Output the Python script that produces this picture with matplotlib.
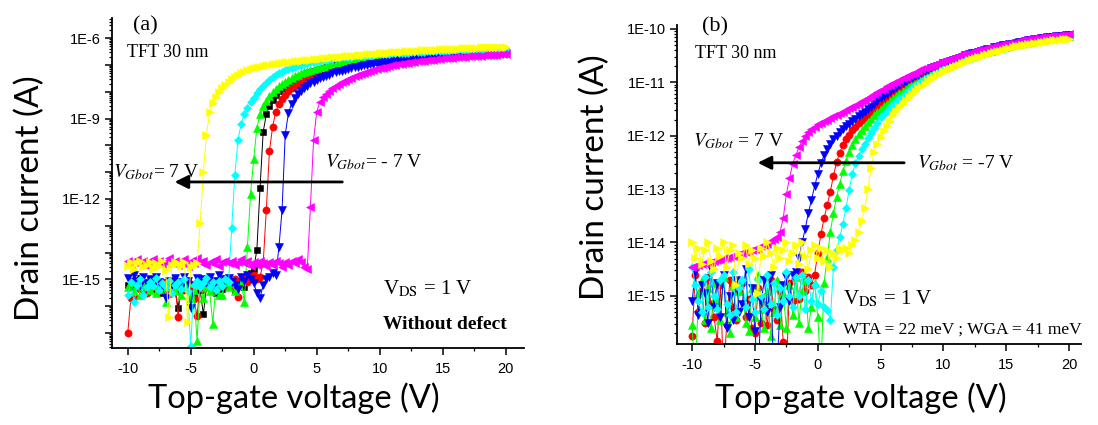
import numpy as np
import matplotlib
matplotlib.use("Agg")
import matplotlib.pyplot as plt
from matplotlib.ticker import FixedLocator, FuncFormatter, NullFormatter, MultipleLocator

plt.rcParams['axes.unicode_minus'] = False
plt.rcParams['mathtext.fontset'] = 'stix'

# Top-gate voltage sweep (V), 0.25 V step
vg = np.linspace(-10, 20, 121)

# ---------------- (a) without defect: log10(Id / A) ----------------
a_black = [
    -15.2, -15.05, -15.3, -15.1, -14.95, -15.25, -15.4, -15.15,
    -15.0, -15.35, -15.2, -15.5, -15.1, -15.3, -15.05, -15.45,
    -16.05, -15.2, -15.35, -15.1, -15.25, -15.6, -15.15, -15.4,
    -16.3, -15.3, -15.05, -15.2, -15.5, -15.15, -15.35, -15.0,
    -15.25, -15.1, -15.4, -15.2, -15.05, -15.3, -14.9, -14.75,
    -14.6, -13.9, -11.6, -9.5, -8.85, -8.52, -8.3, -8.13,
    -7.98, -7.86, -7.76, -7.68, -7.6, -7.53, -7.47, -7.41,
    -7.36, -7.31, -7.27, -7.23, -7.19, -7.16, -7.12, -7.09,
    -7.06, -7.03, -7.01, -6.98, -6.96, -6.94, -6.92, -6.89,
    -6.87, -6.85, -6.84, -6.82, -6.8, -6.79, -6.77, -6.76,
    -6.75, -6.73, -6.72, -6.71, -6.7, -6.69, -6.68, -6.67,
    -6.66, -6.65, -6.64, -6.63, -6.62, -6.61, -6.61, -6.6,
    -6.59, -6.58, -6.58, -6.57, -6.56, -6.56, -6.55, -6.55,
    -6.54, -6.53, -6.53, -6.52, -6.52, -6.51, -6.51, -6.5,
    -6.5, -6.49, -6.49, -6.49, -6.48, -6.48, -6.47, -6.47,
    -6.47]
a_red = [
    -17.0, -15.7, -15.65, -15.1, -15.35, -15.2, -15.5, -15.05,
    -15.3, -15.15, -15.45, -15.1, -15.3, -15.55, -15.25, -15.1,
    -16.4, -15.2, -15.4, -15.05, -15.3, -15.75, -16.35, -15.2,
    -15.35, -15.1, -15.25, -15.45, -15.1, -15.3, -15.0, -15.2,
    -15.1, -15.25, -15.0, -15.65, -15.15, -14.95, -15.1, -14.9,
    -14.85, -15.0, -14.9, -14.4, -12.4, -10.2, -9.3, -8.75,
    -8.47, -8.27, -8.12, -7.99, -7.88, -7.79, -7.71, -7.63,
    -7.57, -7.51, -7.46, -7.41, -7.36, -7.32, -7.28, -7.24,
    -7.21, -7.18, -7.15, -7.12, -7.09, -7.07, -7.04, -7.02,
    -7.0, -6.98, -6.96, -6.94, -6.92, -6.91, -6.89, -6.88,
    -6.86, -6.85, -6.83, -6.82, -6.81, -6.8, -6.79, -6.77,
    -6.76, -6.75, -6.74, -6.73, -6.72, -6.72, -6.71, -6.7,
    -6.69, -6.68, -6.67, -6.67, -6.66, -6.65, -6.65, -6.64,
    -6.63, -6.63, -6.62, -6.62, -6.61, -6.6, -6.6, -6.59,
    -6.59, -6.58, -6.58, -6.57, -6.57, -6.56, -6.56, -6.56,
    -6.55]
a_green = [
    -15.3, -15.1, -15.45, -15.2, -15.6, -15.25, -15.05, -15.4,
    -15.2, -15.5, -15.15, -15.35, -15.85, -15.3, -15.1, -15.45,
    -15.25, -15.6, -15.3, -15.15, -15.7, -15.4, -17.3, -15.2,
    -15.7, -15.3, -15.45, -16.65, -15.2, -15.6, -15.6, -15.1,
    -15.3, -15.15, -15.45, -15.2, -15.05, -15.85, -13.8, -11.8,
    -10.5, -9.35, -8.85, -8.55, -8.33, -8.16, -8.02, -7.9,
    -7.79, -7.7, -7.62, -7.55, -7.48, -7.42, -7.37, -7.32,
    -7.27, -7.23, -7.19, -7.15, -7.12, -7.09, -7.06, -7.03,
    -7.0, -6.98, -6.95, -6.93, -6.91, -6.89, -6.87, -6.85,
    -6.83, -6.82, -6.8, -6.79, -6.77, -6.76, -6.74, -6.73,
    -6.72, -6.71, -6.7, -6.69, -6.68, -6.67, -6.66, -6.65,
    -6.64, -6.63, -6.62, -6.61, -6.61, -6.6, -6.59, -6.58,
    -6.58, -6.57, -6.56, -6.56, -6.55, -6.54, -6.54, -6.53,
    -6.53, -6.52, -6.52, -6.51, -6.51, -6.5, -6.5, -6.49,
    -6.49, -6.48, -6.48, -6.47, -6.47, -6.47, -6.46, -6.46,
    -6.45]
a_blue = [
    -14.95, -15.1, -14.85, -15.05, -15.2, -14.9, -15.15, -15.0,
    -15.25, -14.9, -15.1, -15.3, -15.7, -15.05, -15.2, -14.95,
    -15.1, -15.3, -14.9, -15.05, -16.05, -15.2, -14.95, -15.1,
    -15.0, -15.15, -14.9, -15.25, -15.05, -14.85, -15.2, -15.0,
    -14.95, -15.1, -15.2, -15.35, -14.9, -15.05, -14.85, -15.0,
    -15.15, -15.5, -15.7, -15.2, -15.0, -14.9, -14.75, -14.85,
    -13.8, -12.4, -9.6, -8.8, -8.45, -8.24, -8.08, -7.96,
    -7.86, -7.77, -7.69, -7.62, -7.56, -7.5, -7.45, -7.4,
    -7.36, -7.32, -7.28, -7.24, -7.21, -7.18, -7.15, -7.12,
    -7.09, -7.07, -7.04, -7.02, -7.0, -6.98, -6.96, -6.94,
    -6.92, -6.9, -6.89, -6.87, -6.86, -6.84, -6.83, -6.81,
    -6.8, -6.79, -6.78, -6.77, -6.76, -6.75, -6.74, -6.73,
    -6.72, -6.71, -6.7, -6.69, -6.69, -6.68, -6.67, -6.66,
    -6.66, -6.65, -6.64, -6.64, -6.63, -6.62, -6.62, -6.61,
    -6.61, -6.6, -6.6, -6.59, -6.59, -6.58, -6.58, -6.57,
    -6.57]
a_cyan = [
    -15.6, -15.1, -15.85, -15.2, -15.0, -15.6, -15.3, -15.1,
    -15.25, -14.95, -15.4, -15.15, -15.3, -15.05, -15.5, -15.2,
    -15.1, -15.35, -15.0, -15.45, -17.5, -15.2, -15.05, -15.3,
    -15.15, -14.95, -15.3, -15.1, -15.4, -15.05, -15.25, -15.0,
    -15.1, -13.1, -11.1, -9.8, -9.2, -8.85, -8.6, -8.4,
    -8.22, -8.05, -7.9, -7.77, -7.66, -7.56, -7.47, -7.39,
    -7.32, -7.26, -7.2, -7.15, -7.1, -7.06, -7.02, -6.99,
    -6.96, -6.93, -6.91, -6.88, -6.86, -6.84, -6.82, -6.8,
    -6.78, -6.77, -6.75, -6.74, -6.72, -6.71, -6.7, -6.69,
    -6.68, -6.67, -6.66, -6.65, -6.64, -6.63, -6.62, -6.61,
    -6.6, -6.59, -6.59, -6.58, -6.57, -6.56, -6.56, -6.55,
    -6.54, -6.54, -6.53, -6.53, -6.52, -6.51, -6.51, -6.5,
    -6.5, -6.49, -6.49, -6.48, -6.48, -6.47, -6.47, -6.46,
    -6.46, -6.45, -6.45, -6.45, -6.44, -6.44, -6.43, -6.43,
    -6.43, -6.42, -6.42, -6.42, -6.41, -6.41, -6.41, -6.4,
    -6.4]
a_magenta = [
    -14.3, -14.45, -14.35, -14.25, -14.4, -14.3, -14.5, -14.35,
    -14.25, -14.4, -14.3, -14.45, -14.35, -14.2, -14.4, -14.3,
    -14.45, -14.35, -14.25, -14.5, -14.3, -14.4, -14.2, -14.35,
    -14.3, -14.45, -14.35, -14.4, -14.25, -14.5, -14.35, -14.3,
    -14.4, -14.3, -14.45, -14.35, -14.25, -14.4, -14.3, -14.5,
    -14.35, -14.45, -14.3, -14.4, -14.5, -14.35, -14.45, -14.3,
    -14.4, -14.55, -14.35, -14.45, -14.3, -14.4, -14.25, -14.35,
    -14.55, -14.6, -12.3, -9.8, -8.75, -8.38, -8.2, -8.07,
    -7.96, -7.87, -7.79, -7.72, -7.65, -7.59, -7.53, -7.48,
    -7.43, -7.38, -7.34, -7.3, -7.26, -7.22, -7.19, -7.16,
    -7.13, -7.1, -7.07, -7.05, -7.02, -7.0, -6.98, -6.96,
    -6.94, -6.92, -6.9, -6.89, -6.87, -6.85, -6.84, -6.82,
    -6.81, -6.8, -6.78, -6.77, -6.76, -6.75, -6.74, -6.73,
    -6.72, -6.71, -6.7, -6.69, -6.68, -6.67, -6.67, -6.66,
    -6.65, -6.64, -6.64, -6.63, -6.62, -6.62, -6.61, -6.61,
    -6.6]
a_yellow = [
    -14.5, -14.35, -14.6, -14.4, -14.3, -14.55, -14.45, -14.35,
    -14.6, -14.4, -14.5, -14.3, -14.65, -16.4, -14.45, -14.35,
    -14.4, -14.5, -14.35, -16.6, -14.55, -14.45, -14.4, -12.9,
    -11.0, -9.6, -8.75, -8.42, -8.2, -8.02, -7.86, -7.74,
    -7.63, -7.53, -7.45, -7.37, -7.31, -7.25, -7.2, -7.16,
    -7.12, -7.09, -7.06, -7.03, -7.01, -6.99, -6.97, -6.95,
    -6.94, -6.92, -6.91, -6.89, -6.88, -6.87, -6.85, -6.84,
    -6.83, -6.82, -6.8, -6.79, -6.78, -6.77, -6.76, -6.74,
    -6.73, -6.72, -6.71, -6.7, -6.69, -6.68, -6.67, -6.66,
    -6.65, -6.64, -6.63, -6.62, -6.61, -6.6, -6.59, -6.58,
    -6.57, -6.56, -6.55, -6.54, -6.53, -6.53, -6.52, -6.51,
    -6.5, -6.49, -6.49, -6.48, -6.47, -6.46, -6.46, -6.45,
    -6.44, -6.44, -6.43, -6.42, -6.42, -6.41, -6.41, -6.4,
    -6.39, -6.39, -6.38, -6.38, -6.37, -6.37, -6.36, -6.36,
    -6.35, -6.35, -6.34, -6.34, -6.34, -6.33, -6.33, -6.32,
    -6.32]

# ---------------- (b) with tail / Gaussian states: log10(Id / A) ----------------
b_red = [
    -15.75, -14.6, -15.3, -14.9, -15.5, -14.65, -15.15, -15.4,
    -15.85, -14.8, -16.5, -15.55, -14.7, -15.2, -15.45, -14.9,
    -14.75, -15.4, -15.05, -15.6, -15.7, -14.85, -15.5, -15.15,
    -15.55, -14.7, -15.25, -15.45, -14.9, -15.86, -16.5, -14.75,
    -15.1, -14.6, -15.05, -14.55, -14.9, -14.65, -14.8, -14.6,
    -14.2, -13.85, -13.55, -13.3, -13.05, -12.75, -12.5, -12.32,
    -12.18, -12.07, -11.98, -11.9, -11.83, -11.77, -11.71, -11.66,
    -11.61, -11.56, -11.5, -11.45, -11.4, -11.36, -11.31, -11.27,
    -11.22, -11.18, -11.14, -11.09, -11.05, -11.02, -10.98, -10.95,
    -10.91, -10.88, -10.85, -10.81, -10.78, -10.75, -10.73, -10.7,
    -10.67, -10.65, -10.63, -10.61, -10.59, -10.56, -10.54, -10.52,
    -10.5, -10.48, -10.47, -10.45, -10.44, -10.42, -10.4, -10.39,
    -10.37, -10.36, -10.34, -10.33, -10.32, -10.3, -10.29, -10.27,
    -10.26, -10.25, -10.24, -10.23, -10.22, -10.21, -10.2, -10.19,
    -10.18, -10.17, -10.17, -10.16, -10.15, -10.14, -10.14, -10.13,
    -10.12]
b_green = [
    -15.55, -16.6, -14.95, -14.7, -15.45, -14.85, -15.6, -14.75,
    -15.1, -15.45, -14.65, -15.3, -15.7, -14.8, -15.4, -14.9,
    -14.7, -15.5, -15.65, -14.85, -15.4, -14.6, -15.25, -15.6,
    -14.9, -15.75, -15.3, -14.7, -15.55, -14.95, -15.6, -14.8,
    -15.35, -14.65, -15.5, -14.9, -14.7, -15.6, -15.2, -14.75,
    -15.4, -16.4, -14.75, -14.3, -13.8, -13.45, -13.15, -12.9,
    -12.67, -12.47, -12.3, -12.17, -12.06, -11.97, -11.89, -11.82,
    -11.75, -11.69, -11.62, -11.56, -11.5, -11.45, -11.4, -11.35,
    -11.3, -11.26, -11.21, -11.17, -11.12, -11.08, -11.04, -11.01,
    -10.97, -10.94, -10.9, -10.87, -10.83, -10.8, -10.77, -10.74,
    -10.71, -10.69, -10.66, -10.64, -10.62, -10.6, -10.57, -10.55,
    -10.53, -10.51, -10.5, -10.48, -10.46, -10.44, -10.42, -10.41,
    -10.39, -10.38, -10.36, -10.35, -10.34, -10.32, -10.31, -10.29,
    -10.28, -10.27, -10.26, -10.25, -10.24, -10.22, -10.21, -10.2,
    -10.19, -10.18, -10.18, -10.17, -10.16, -10.15, -10.15, -10.14,
    -10.13]
b_blue = [
    -15.1, -14.55, -15.35, -14.8, -14.95, -15.5, -14.5, -15.2,
    -14.75, -15.4, -14.6, -15.6, -15.0, -15.45, -14.7, -15.3,
    -15.15, -14.5, -15.4, -14.85, -15.65, -16.5, -15.1, -14.7,
    -15.3, -14.6, -16.5, -16.4, -15.2, -14.8, -14.65, -15.1,
    -14.6, -14.55, -14.3, -14.0, -13.75, -13.45, -13.2, -12.95,
    -12.72, -12.52, -12.37, -12.25, -12.15, -12.07, -12.0, -11.93,
    -11.87, -11.82, -11.78, -11.73, -11.68, -11.64, -11.6, -11.55,
    -11.51, -11.46, -11.4, -11.35, -11.3, -11.26, -11.22, -11.17,
    -11.13, -11.09, -11.06, -11.02, -10.98, -10.95, -10.92, -10.89,
    -10.86, -10.83, -10.8, -10.77, -10.74, -10.72, -10.69, -10.67,
    -10.64, -10.62, -10.6, -10.58, -10.56, -10.54, -10.52, -10.5,
    -10.48, -10.46, -10.45, -10.43, -10.42, -10.4, -10.38, -10.37,
    -10.35, -10.34, -10.33, -10.31, -10.3, -10.29, -10.28, -10.26,
    -10.25, -10.24, -10.23, -10.22, -10.21, -10.2, -10.19, -10.18,
    -10.17, -10.16, -10.16, -10.15, -10.14, -10.13, -10.13, -10.12,
    -10.11]
b_cyan = [
    -14.45, -14.8, -15.1, -15.3, -14.65, -15.2, -14.55, -15.0,
    -15.25, -14.7, -14.6, -15.15, -15.35, -14.55, -15.3, -14.85,
    -14.7, -15.2, -14.5, -15.05, -15.3, -14.7, -15.0, -15.25,
    -14.6, -15.15, -14.75, -15.35, -14.85, -15.1, -14.55, -15.0,
    -15.2, -14.65, -15.0, -14.6, -15.25, -14.7, -15.1, -14.8,
    -15.15, -14.9, -15.2, -15.26, -15.45, -14.45, -14.15, -13.9,
    -13.65, -13.35, -13.02, -12.72, -12.52, -12.38, -12.26, -12.15,
    -12.05, -11.95, -11.85, -11.76, -11.66, -11.6, -11.54, -11.47,
    -11.41, -11.36, -11.3, -11.25, -11.2, -11.16, -11.11, -11.07,
    -11.03, -10.99, -10.95, -10.92, -10.88, -10.85, -10.82, -10.79,
    -10.76, -10.74, -10.71, -10.69, -10.66, -10.64, -10.61, -10.59,
    -10.56, -10.54, -10.52, -10.5, -10.49, -10.47, -10.45, -10.43,
    -10.41, -10.4, -10.38, -10.37, -10.36, -10.34, -10.33, -10.31,
    -10.3, -10.29, -10.28, -10.27, -10.26, -10.24, -10.23, -10.22,
    -10.21, -10.2, -10.2, -10.19, -10.18, -10.17, -10.17, -10.16,
    -10.15]
b_magenta = [
    -14.45, -14.44, -14.42, -14.41, -14.39, -14.38, -14.36, -14.35,
    -14.33, -14.32, -14.3, -14.29, -14.27, -14.25, -14.24, -14.22,
    -14.2, -14.18, -14.16, -14.14, -14.12, -14.1, -14.07, -14.05,
    -14.02, -13.98, -13.94, -13.89, -13.8, -13.55, -13.1, -12.8,
    -12.53, -12.37, -12.22, -12.1, -12.0, -11.93, -11.88, -11.83,
    -11.79, -11.76, -11.73, -11.7, -11.67, -11.64, -11.61, -11.58,
    -11.55, -11.52, -11.49, -11.46, -11.43, -11.4, -11.36, -11.33,
    -11.3, -11.26, -11.22, -11.19, -11.15, -11.12, -11.08, -11.05,
    -11.02, -10.99, -10.96, -10.93, -10.9, -10.87, -10.84, -10.82,
    -10.79, -10.76, -10.74, -10.71, -10.69, -10.67, -10.64, -10.62,
    -10.6, -10.58, -10.56, -10.54, -10.52, -10.5, -10.48, -10.47,
    -10.45, -10.43, -10.42, -10.4, -10.39, -10.37, -10.36, -10.34,
    -10.33, -10.32, -10.3, -10.29, -10.28, -10.27, -10.26, -10.24,
    -10.23, -10.22, -10.21, -10.2, -10.19, -10.18, -10.17, -10.16,
    -10.16, -10.15, -10.14, -10.13, -10.13, -10.12, -10.11, -10.11,
    -10.1]
b_yellow = [
    -14.0, -14.3, -14.1, -14.4, -14.15, -14.0, -14.35, -14.5,
    -14.1, -14.25, -14.0, -14.45, -14.15, -14.05, -14.8, -14.2,
    -14.3, -14.05, -14.4, -14.15, -14.3, -14.95, -14.1, -14.25,
    -14.0, -14.2, -14.45, -14.1, -14.3, -14.15, -14.0, -14.35,
    -14.2, -14.05, -14.4, -14.0, -14.25, -14.5, -14.15, -14.05,
    -14.3, -14.1, -14.35, -14.15, -14.45, -14.2, -14.3, -14.1,
    -14.15, -14.1, -14.2, -14.05, -13.95, -13.8, -13.6, -13.35,
    -13.0, -12.6, -12.3, -12.15, -12.03, -11.92, -11.82, -11.72,
    -11.62, -11.54, -11.47, -11.4, -11.33, -11.28, -11.22, -11.17,
    -11.11, -11.07, -11.03, -10.98, -10.94, -10.91, -10.87, -10.84,
    -10.8, -10.77, -10.75, -10.72, -10.7, -10.67, -10.64, -10.62,
    -10.59, -10.57, -10.55, -10.53, -10.52, -10.5, -10.48, -10.46,
    -10.44, -10.42, -10.41, -10.39, -10.38, -10.36, -10.35, -10.33,
    -10.32, -10.31, -10.3, -10.29, -10.28, -10.27, -10.26, -10.25,
    -10.24, -10.23, -10.23, -10.22, -10.21, -10.21, -10.2, -10.2,
    -10.19]

# Series styles (colour, marker, marker size), in drawing order
STYLE = {
    'black':   ('#000000', 's', 4.6),
    'red':     ('#FF0000', 'o', 5.2),
    'green':   ('#00FF00', '^', 5.8),
    'blue':    ('#0000FF', 'v', 5.8),
    'cyan':    ('#00FFFF', 'D', 4.4),
    'magenta': ('#FF00FF', '<', 5.8),
    'yellow':  ('#FFFF00', '>', 5.8),
}

panel_a = [('black', a_black), ('red', a_red), ('green', a_green), ('blue', a_blue),
           ('cyan', a_cyan), ('magenta', a_magenta), ('yellow', a_yellow)]
panel_b = [('red', b_red), ('green', b_green), ('blue', b_blue),
           ('cyan', b_cyan), ('magenta', b_magenta), ('yellow', b_yellow)]

SERIF = 'Liberation Serif'
SANS = 'Liberation Sans'
LABEL_FONT = 'Lato'

fig = plt.figure(figsize=(10.98, 4.25), dpi=100)
ax_a = fig.add_axes([0.1020, 0.1812, 0.3752, 0.7765])
ax_b = fig.add_axes([0.6166, 0.1906, 0.3679, 0.7506])


def draw_series(ax, series):
    for name, logi in series:
        col, mk, ms = STYLE[name]
        assert len(logi) == len(vg)
        ax.plot(vg, 10.0 ** np.asarray(logi), color=col, lw=0.7, marker=mk,
                ms=ms, mfc=col, mec=col, mew=0.4)


def style_axes(ax, xlim, ylog_lim, label_every):
    lo, hi = ylog_lim
    ax.set_yscale('log')
    ax.set_xlim(*xlim)
    ax.set_ylim(10.0 ** lo, 10.0 ** hi)
    for s in ('top', 'right'):
        ax.spines[s].set_visible(False)
    for s in ('left', 'bottom'):
        ax.spines[s].set_linewidth(1.3)
    # decade ticks and 2..9 minor ticks, only inside the visible range
    decades = np.arange(int(np.floor(lo)), int(np.ceil(hi)) + 1)
    major = [10.0 ** k for k in decades if lo <= k <= hi]
    minor = [m * 10.0 ** k for k in decades for m in range(2, 10)
             if lo <= k + np.log10(m) <= hi]
    ax.yaxis.set_major_locator(FixedLocator(major))
    ax.yaxis.set_minor_locator(FixedLocator(minor))

    def fmt(v, pos):
        k = int(round(np.log10(v)))
        return '1E%d' % k if k % label_every == 0 else ''
    ax.yaxis.set_major_formatter(FuncFormatter(fmt))
    ax.yaxis.set_minor_formatter(NullFormatter())
    ax.xaxis.set_major_locator(MultipleLocator(5))
    ax.xaxis.set_minor_locator(MultipleLocator(2.5))
    ax.xaxis.set_major_formatter(FuncFormatter(lambda v, p: '%d' % round(v)))
    ax.tick_params(which='major', direction='out', length=5, width=1.1,
                   labelsize=10.5, pad=3)
    ax.tick_params(which='minor', direction='out', length=2.5, width=0.9)
    ax.tick_params(axis='x', which='major', pad=5)
    for lab in ax.get_xticklabels() + ax.get_yticklabels():
        lab.set_family(SANS)


draw_series(ax_a, panel_a)
style_axes(ax_a, (-11.25, 21.45), (-17.56, -5.25), 3)
draw_series(ax_b, panel_b)
style_axes(ax_b, (-11.2, 20.95), (-15.9, -9.93), 1)

# ---- annotations, panel (a) ----
ta = ax_a.transAxes
ax_a.text(0.051, 0.975, '(a)', transform=ta, family=SERIF, fontsize=16, va='center')
ax_a.text(0.036, 0.894, 'TFT 30 nm', transform=ta, family=SERIF, fontsize=13, va='center')
ax_a.text(0.003, 0.533, r'$V_{Gbot}$= 7 V', transform=ta, family=SERIF, fontsize=14, va='center')
ax_a.text(0.517, 0.564, r'$V_{Gbot}$= - 7 V', transform=ta, family=SERIF, fontsize=14, va='center')
ax_a.text(0.658, 0.179, r'V$_{\rm DS}$ = 1 V', transform=ta, family=SERIF, fontsize=15, va='center')
ax_a.text(0.658, 0.07, 'Without defect', transform=ta, family=SERIF, fontsize=14,
          fontweight='bold', va='center')
ax_a.annotate('', xy=(-6.5, 4.3e-12), xytext=(7.25, 4.3e-12),
              arrowprops=dict(arrowstyle='-|>', lw=2.0, color='black', mutation_scale=20))

# ---- annotations, panel (b) ----
tb = ax_b.transAxes
ax_b.text(0.062, 0.995, '(b)', transform=tb, family=SERIF, fontsize=16, va='center')
ax_b.text(0.045, 0.911, 'TFT 30 nm', transform=tb, family=SERIF, fontsize=13, va='center')
ax_b.text(0.04, 0.636, r'$V_{Gbot}$ = 7 V', transform=tb, family=SERIF, fontsize=14, va='center')
ax_b.text(0.594, 0.567, r'$V_{Gbot}$ = -7 V', transform=tb, family=SERIF, fontsize=14, va='center')
ax_b.text(0.411, 0.141, r'V$_{\rm DS}$ = 1 V', transform=tb, family=SERIF, fontsize=15, va='center')
ax_b.text(0.411, 0.044, 'WTA = 22 meV ; WGA = 41 meV', transform=tb, family=SERIF,
          fontsize=12.5, va='center')
ax_b.annotate('', xy=(-5.0, 3.1e-13), xytext=(7.1, 3.1e-13),
              arrowprops=dict(arrowstyle='-|>', lw=2.0, color='black', mutation_scale=20))

# ---- axis titles ----
for x in (0.268, 0.784):
    fig.text(x, 0.0635, 'Top-gate voltage (V)', family=LABEL_FONT, fontsize=23.5,
             ha='center', va='center')
fig.text(0.0273, 0.534, 'Drain current (A)', family=LABEL_FONT, fontsize=24,
         rotation=90, ha='center', va='center')
fig.text(0.542, 0.584, 'Drain current (A)', family=LABEL_FONT, fontsize=24,
         rotation=90, ha='center', va='center')

fig.savefig('out.png', dpi=100)
